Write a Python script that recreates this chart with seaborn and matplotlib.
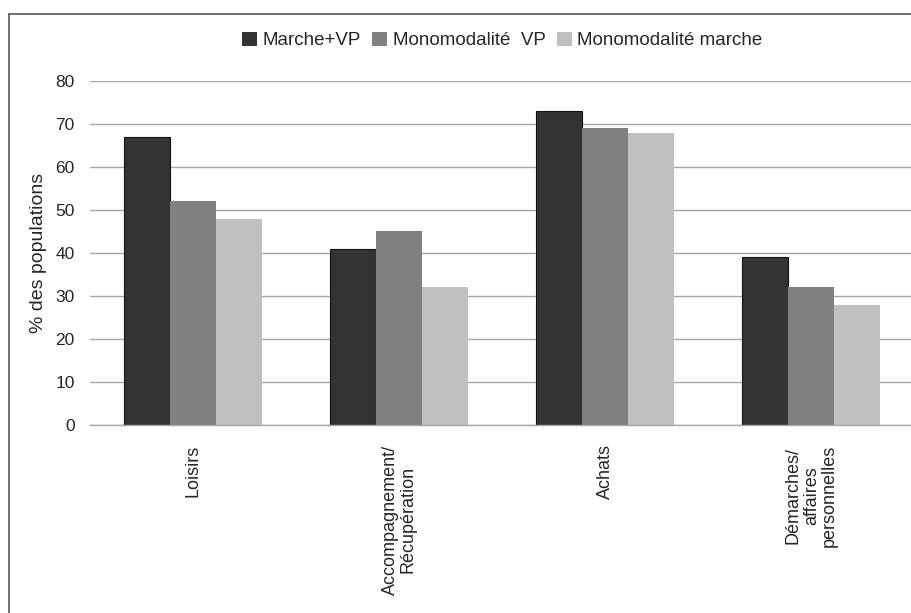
import pandas as pd
import seaborn as sns
import matplotlib.pyplot as plt
from matplotlib.lines import Line2D

# Données
categories = ["Loisirs", "Accompagnement/\nRécupération", "Achats",
              "Démarches/\naffaires\npersonnelles"]
series = ["Marche+VP", "Monomodalité  VP", "Monomodalité marche"]
marche_vp = [67, 41, 73, 39]
mono_vp = [52, 45, 69, 32]
mono_marche = [48, 32, 68, 28]
couleurs = ["#333333", "#808080", "#c0c0c0"]

df = pd.DataFrame({
    "motif": categories * 3,
    "serie": [series[0]] * 4 + [series[1]] * 4 + [series[2]] * 4,
    "valeur": marche_vp + mono_vp + mono_marche,
})

sns.set_style("white")
plt.rcParams['font.family'] = ['Liberation Sans', 'DejaVu Sans']

fig = plt.figure(figsize=(9.11, 6.13), dpi=100)
ax = fig.add_axes([0.0988, 0.3067, 0.905, 0.5612])

sns.barplot(data=df, x="motif", y="valeur", hue="serie", order=categories,
            hue_order=series, palette=couleurs, width=0.67, gap=0,
            saturation=1, ax=ax, edgecolor="none")

# bord sombre sur la première série
for bar in ax.containers[0]:
    bar.set_edgecolor("#111111")
    bar.set_linewidth(0.8)

ax.set_ylim(0, 80)
ax.set_xlim(-0.5, 3.5)
ax.set_yticks(range(0, 81, 10))
ax.yaxis.grid(True, color="#a6a6a6", linewidth=1)
ax.set_axisbelow(True)
for s in ["top", "right", "left"]:
    ax.spines[s].set_visible(False)
ax.spines["bottom"].set_color("#a6a6a6")
ax.spines["bottom"].set_linewidth(1)

ax.tick_params(axis="y", length=0, pad=11, labelsize=12.5)
ax.tick_params(axis="x", length=0, pad=14)
ax.set_xticks(range(len(categories)))
ax.set_xticklabels(categories, rotation=90, va="top", ha="center",
                   multialignment="center", fontsize=13, linespacing=1.1)
ax.set_xlabel("")
ax.set_ylabel("% des populations", fontsize=14, labelpad=6)

ax.legend(loc="lower center", bbox_to_anchor=(0.5, 1.07), ncol=3,
          frameon=False, fontsize=13.5, handlelength=0.8, handleheight=0.8,
          handletextpad=0.3, columnspacing=0.6, borderaxespad=0)

# cadre
fig.add_artist(Line2D([0.0099, 1.0], [1 - 14 / 613, 1 - 14 / 613],
                      color="#555555", linewidth=1.2))
fig.add_artist(Line2D([0.0099, 0.0099], [0, 1 - 14 / 613],
                      color="#555555", linewidth=1.2))

plt.savefig("out.png", dpi=100)
